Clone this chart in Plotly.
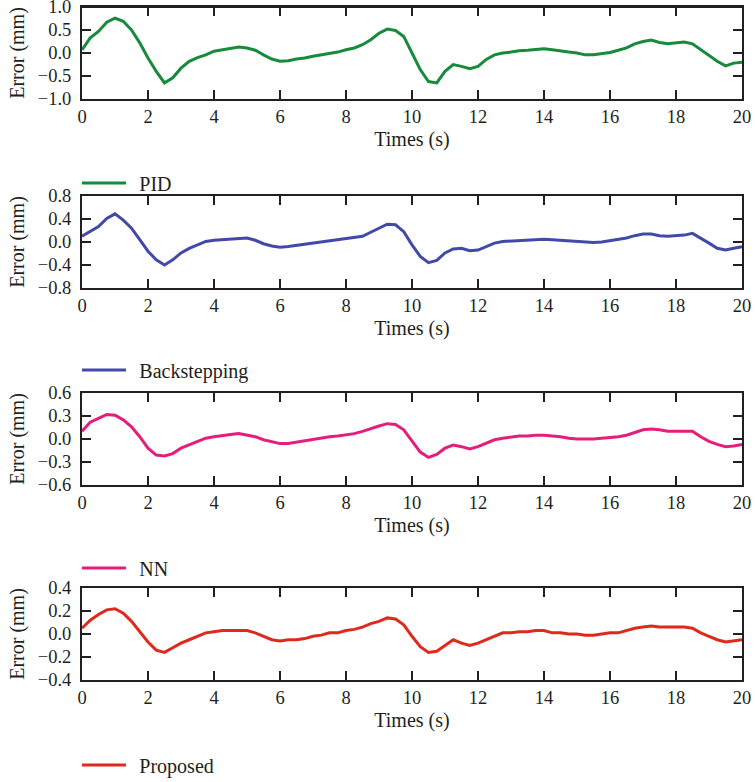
import plotly.graph_objects as go

# ---- data ----
time_s = [i * 0.25 for i in range(81)]

pid = [0.07, 0.33, 0.47, 0.67, 0.76, 0.69, 0.50, 0.22, -0.11, -0.40, -0.65, -0.54,
       -0.33, -0.18, -0.10, -0.04, 0.04, 0.07, 0.10, 0.13, 0.11, 0.06, -0.04, -0.13,
       -0.18, -0.17, -0.13, -0.11, -0.07, -0.04, 0.00, 0.02, 0.07, 0.11, 0.18, 0.29,
       0.43, 0.52, 0.49, 0.36, 0.00, -0.36, -0.62, -0.65, -0.40, -0.25, -0.29, -0.34,
       -0.29, -0.14, -0.04, 0.00, 0.02, 0.05, 0.06, 0.07, 0.09, 0.07, 0.04, 0.02,
       0.00, -0.04, -0.04, -0.01, 0.01, 0.06, 0.11, 0.20, 0.25, 0.28, 0.23, 0.20,
       0.22, 0.24, 0.20, 0.07, -0.06, -0.18, -0.28, -0.22, -0.20]

backstepping = [0.10, 0.18, 0.27, 0.41, 0.49, 0.38, 0.24, 0.04, -0.16, -0.31, -0.40, -0.31,
                -0.19, -0.11, -0.05, 0.01, 0.03, 0.04, 0.05, 0.07, 0.07, 0.03, -0.03, -0.07,
                -0.09, -0.08, -0.06, -0.04, -0.02, -0.01, 0.01, 0.03, 0.05, 0.07, 0.10, 0.17,
                0.24, 0.31, 0.30, 0.18, -0.05, -0.25, -0.36, -0.32, -0.19, -0.12, -0.11, -0.15,
                -0.14, -0.08, -0.02, 0.01, 0.02, 0.03, 0.04, 0.05, 0.05, 0.04, 0.03, 0.01,
                0.00, -0.01, -0.01, 0.00, 0.02, 0.04, 0.07, 0.11, 0.14, 0.14, 0.11, 0.10,
                0.11, 0.12, 0.15, 0.07, -0.02, -0.11, -0.14, -0.11, -0.08]

nn = [0.10, 0.22, 0.27, 0.32, 0.31, 0.25, 0.16, 0.03, -0.12, -0.21, -0.22, -0.19,
      -0.12, -0.08, -0.03, 0.01, 0.03, 0.05, 0.06, 0.07, 0.05, 0.03, -0.01, -0.04,
      -0.06, -0.06, -0.04, -0.03, -0.01, 0.01, 0.03, 0.04, 0.06, 0.07, 0.10, 0.14,
      0.17, 0.20, 0.19, 0.12, -0.03, -0.17, -0.24, -0.20, -0.12, -0.08, -0.10, -0.13,
      -0.10, -0.06, -0.01, 0.01, 0.03, 0.04, 0.04, 0.05, 0.05, 0.04, 0.03, 0.01,
      0.00, 0.00, 0.00, 0.01, 0.02, 0.03, 0.05, 0.09, 0.12, 0.13, 0.12, 0.10,
      0.10, 0.10, 0.10, 0.03, -0.03, -0.07, -0.10, -0.09, -0.07]

proposed = [0.05, 0.12, 0.17, 0.21, 0.22, 0.18, 0.11, 0.02, -0.07, -0.14, -0.16, -0.12,
            -0.08, -0.05, -0.02, 0.01, 0.02, 0.03, 0.03, 0.03, 0.03, 0.01, -0.02, -0.05,
            -0.06, -0.05, -0.05, -0.04, -0.02, -0.01, 0.01, 0.01, 0.03, 0.04, 0.06, 0.09,
            0.11, 0.14, 0.13, 0.08, -0.02, -0.11, -0.16, -0.15, -0.10, -0.05, -0.08, -0.10,
            -0.08, -0.05, -0.02, 0.01, 0.01, 0.02, 0.02, 0.03, 0.03, 0.01, 0.01, 0.00,
            0.00, -0.01, -0.01, 0.00, 0.01, 0.01, 0.03, 0.05, 0.06, 0.07, 0.06, 0.06,
            0.06, 0.06, 0.05, 0.01, -0.02, -0.05, -0.07, -0.06, -0.05]

names = ["PID", "Backstepping", "NN", "Proposed"]
colors = ["#178a3c", "#4249a8", "#e51e7c", "#e0291d"]
series = [pid, backstepping, nn, proposed]
y_ranges = [[-1.0, 1.0], [-0.8, 0.8], [-0.6, 0.6], [-0.4, 0.4]]
y_ticks = [[-1.0, -0.5, 0.0, 0.5, 1.0],
           [-0.8, -0.4, 0.0, 0.4, 0.8],
           [-0.6, -0.3, 0.0, 0.3, 0.6],
           [-0.4, -0.2, 0.0, 0.2, 0.4]]
x_ticks = [0, 2, 4, 6, 8, 10, 12, 14, 16, 18, 20]

# ---- layout geometry (page pixels) ----
W, H = 755, 782
TOP = 6
panel_px = [(7, 99), (196, 288), (393, 485), (588, 680)]
legend_px = [183, 370, 568, 765]
PLOT_L, PLOT_R = 82, 742
PH = H - TOP  # plot-area height


def frac(px):
    return min(1.0, max(0.0, 1 - (px - TOP) / PH))


FONT = "Liberation Serif"
TXT = "#231f20"
AX = "#231f20"

fig = go.Figure()
layout = dict(
    width=W, height=H,
    margin=dict(l=PLOT_L, r=W - PLOT_R, t=TOP, b=0, autoexpand=False),
    paper_bgcolor="white", plot_bgcolor="white",
    font=dict(family=FONT, size=18, color=TXT),
    showlegend=True,
)


def minus(v):
    return f"{v:.1f}".replace("-", "\u2212")


plot_w = PLOT_R - PLOT_L
for i in range(4):
    k = "" if i == 0 else str(i + 1)
    leg = "legend" if i == 0 else f"legend{i + 1}"
    fig.add_trace(go.Scatter(
        x=time_s, y=series[i], mode="lines", name="\u00a0\u2006" + names[i],
        line=dict(color=colors[i], width=3),
        xaxis=f"x{k}", yaxis=f"y{k}", legend=leg,
    ))
    top, bot = panel_px[i]
    layout[f"xaxis{k}"] = dict(
        domain=[0, 1], anchor=f"y{k}", range=[0, 20], automargin=False,
        tickvals=x_ticks, ticktext=[str(v) for v in x_ticks],
        ticks="inside", ticklen=9, tickwidth=1.6, tickcolor=AX,
        ticklabeloverflow="allow",
        showline=True, linewidth=2, linecolor=AX, mirror="all",
        showgrid=False, zeroline=False,
        tickfont=dict(family=FONT, size=18.5, color=TXT),
        title=dict(text="Times (s)", font=dict(family=FONT, size=20, color=TXT), standoff=6),
    )
    layout[f"yaxis{k}"] = dict(
        domain=[frac(bot), frac(top)], anchor=f"x{k}", range=y_ranges[i],
        automargin=False,
        tickvals=y_ticks[i], ticktext=[minus(v) for v in y_ticks[i]],
        ticks="inside", ticklen=9, tickwidth=1.6, tickcolor=AX,
        ticklabelstandoff=5, ticklabeloverflow="allow",
        showline=True, linewidth=2, linecolor=AX, mirror="all",
        showgrid=False, zeroline=False,
        tickfont=dict(family=FONT, size=18.5, color=TXT),
        title=dict(text="Error (mm)", font=dict(family=FONT, size=20, color=TXT), standoff=8),
    )
    layout[leg] = dict(
        x=-5 / plot_w, xanchor="left", y=frac(legend_px[i]), yanchor="middle",
        bgcolor="rgba(0,0,0,0)", borderwidth=0, itemwidth=44,
        font=dict(family=FONT, size=20, color=TXT),
    )

fig.update_layout(**layout)
# frame line along the top of the first panel
fig.add_shape(type="line", xref="x domain", yref="y domain", x0=0, x1=1, y0=1, y1=1,
              line=dict(color=AX, width=2), layer="above")
fig.write_html(
    "out.html",
    config={"displayModeBar": False},
    post_script="document.body.style.margin='0';document.body.style.overflow='hidden';",
)
